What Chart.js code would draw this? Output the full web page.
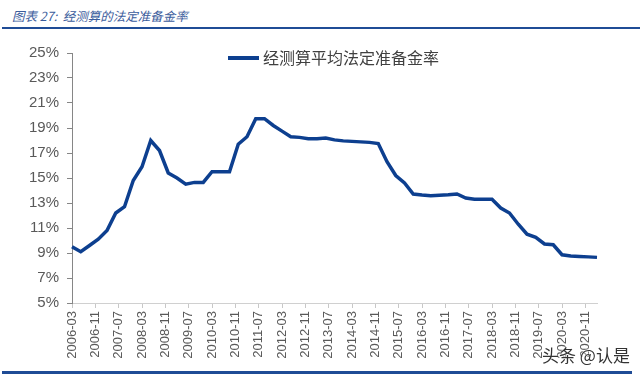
<!DOCTYPE html>
<html>
<head>
<meta charset="utf-8">
<script src="https://cdn.jsdelivr.net/npm/chart.js@4.4.1/dist/chart.umd.min.js"></script>
<style>
  body { margin: 0; background: #fff; }
  #wrap { position: relative; width: 640px; height: 377px; overflow: hidden; font-family: "Noto Sans CJK SC", sans-serif; }
  #title { position: absolute; left: 12px; top: 6px; font-size: 12.5px; font-style: italic; color: #3b5c9c; }
  #rule-top { position: absolute; left: 2px; right: 0; top: 27px; height: 2px; background: #1f4c96; }
  #rule-bottom { position: absolute; left: 2px; right: 8px; top: 371px; height: 3px; background: #1f4c96; }
  #legend { position: absolute; left: 228px; top: 45px; font-size: 16px; color: #404040; white-space: nowrap; }
  #legend span.swatch { display: inline-block; width: 31px; height: 4px; background: #0d3f8f; vertical-align: middle; margin-right: 4px; position: relative; top: -2px; }
  #mark { position: absolute; left: 542px; top: 342px; font-size: 17px; color: #333; text-shadow: 0 0 2px #fff, 0 0 2px #fff; }
  #box { position: absolute; left: 0; top: 30px; width: 640px; height: 340px; }
</style>
</head>
<body>
<div id="wrap">
  <div id="title">图表 27:&nbsp; 经测算的法定准备金率</div>
  <div id="rule-top"></div>
  <div id="box"><canvas id="rrr"></canvas></div>
  <div id="legend"><span class="swatch"></span>经测算平均法定准备金率</div>
  <div id="mark">头条 @认是</div>
  <div id="rule-bottom"></div>
</div>

<script>
// monthly axis 2006-03 .. 2021-03, label shown every 8 months
var months = [];
for (var y = 2006; y <= 2021; y++) {
  for (var m = 1; m <= 12; m++) {
    if ((y == 2006 && m < 3) || (y == 2021 && m > 3)) continue;
    months.push(y + '-' + (m < 10 ? '0' + m : m));
  }
}

// quarterly readings (%)
var quarters = [
  '2006-03','2006-06','2006-09','2006-12',
  '2007-03','2007-06','2007-09','2007-12',
  '2008-03','2008-06','2008-09','2008-12',
  '2009-03','2009-06','2009-09','2009-12',
  '2010-03','2010-06','2010-09','2010-12',
  '2011-03','2011-06','2011-09','2011-12',
  '2012-03','2012-06','2012-09','2012-12',
  '2013-03','2013-06','2013-09','2013-12',
  '2014-03','2014-06','2014-09','2014-12',
  '2015-03','2015-06','2015-09','2015-12',
  '2016-03','2016-06','2016-09','2016-12',
  '2017-03','2017-06','2017-09','2017-12',
  '2018-03','2018-06','2018-09','2018-12',
  '2019-03','2019-06','2019-09','2019-12',
  '2020-03','2020-06','2020-09','2020-12',
  '2021-03'
];
var rates = [
  9.5, 9.1, 9.6, 10.1,
  10.8, 12.2, 12.7, 14.8,
  15.9, 18.0, 17.2, 15.4,
  15.0, 14.5, 14.65, 14.65,
  15.5, 15.5, 15.5, 17.7,
  18.3, 19.75, 19.75, 19.2,
  18.75, 18.3, 18.25, 18.15,
  18.15, 18.2, 18.05, 17.97,
  17.93, 17.89, 17.85, 17.76,
  16.3, 15.2, 14.6, 13.72,
  13.64, 13.58, 13.62, 13.66,
  13.72, 13.4, 13.3, 13.3,
  13.3, 12.6, 12.2, 11.3,
  10.5, 10.25, 9.72, 9.66,
  8.86, 8.76, 8.72, 8.69,
  8.65
];

var points = quarters.map(function(q, i) { return { x: q, y: rates[i] }; });

new Chart(document.getElementById('rrr'), {
  type: 'line',
  data: {
    labels: months,
    datasets: [{
      label: '经测算平均法定准备金率',
      data: points,
      borderColor: '#0d3f8f',
      borderWidth: 3.5,
      pointRadius: 0,
      tension: 0,
      fill: false
    }]
  },
  options: {
    responsive: true,
    maintainAspectRatio: false,
    animation: false,
    layout: { padding: { top: 23, right: 43, bottom: 0, left: 0 } },
    plugins: { legend: { display: false }, tooltip: { enabled: false } },
    scales: {
      x: {
        type: 'category',
        offset: false,
        afterFit: function(s) { s.height = 67; },
        border: { color: '#d0d0d0' },
        grid: { drawOnChartArea: false, color: '#c8c8c8', tickLength: 5 },
        ticks: {
          autoSkip: false,
          minRotation: 90,
          maxRotation: 90,
          padding: 3,
          color: '#595959',
          font: { family: 'Liberation Sans', size: 13 },
          callback: function(v, i) { return i % 8 == 0 ? months[i] : null; }
        }
      },
      y: {
        min: 5,
        max: 25,
        afterFit: function(s) { s.width = 72; },
        border: { color: '#868686' },
        grid: { drawOnChartArea: false, color: '#868686', tickLength: 5 },
        ticks: {
          stepSize: 2,
          padding: 8,
          color: '#595959',
          font: { family: 'Liberation Sans', size: 15 },
          callback: function(v) { return v + '%'; }
        }
      }
    }
  }
});
</script>
</body>
</html>
